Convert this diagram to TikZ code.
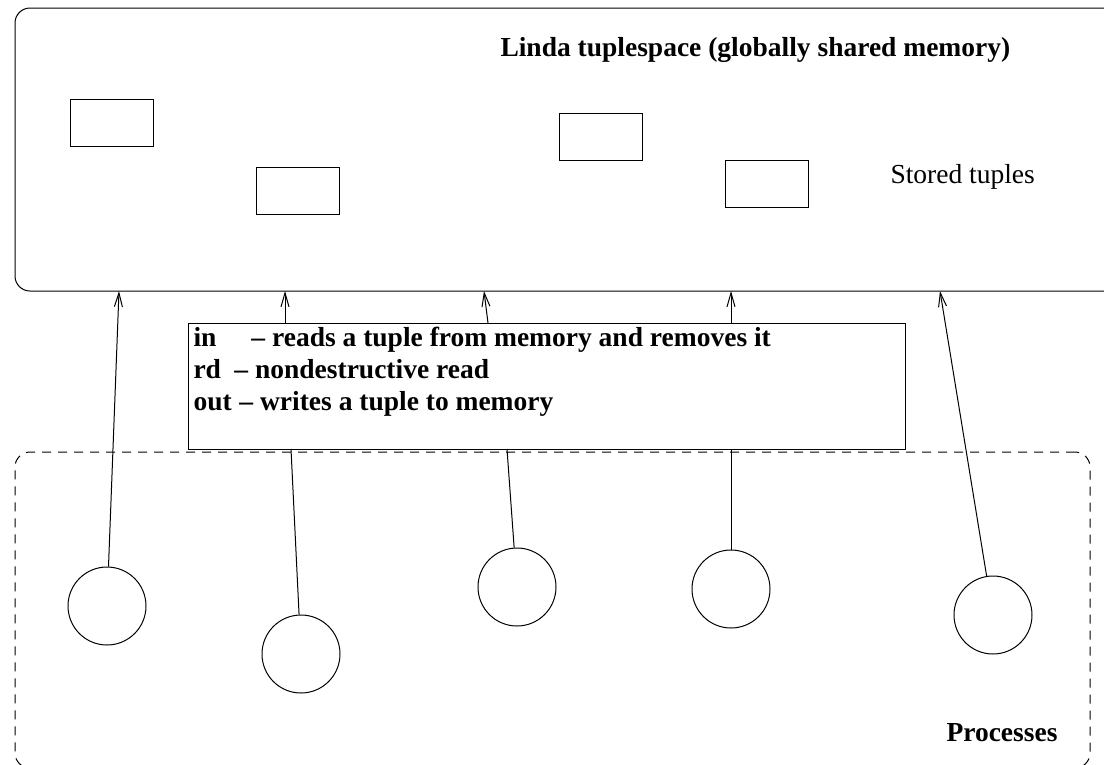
\documentclass[tikz,border=0pt]{standalone}
\usepackage{fontspec}
\setmainfont{Liberation Serif}
\usetikzlibrary{arrows.meta}
\tikzset{>={Straight Barb[length=14pt,width=8pt]}}
\tikzstyle{tuple}=[rectangle,draw,minimum width=83pt,minimum height=47pt,inner sep=0pt]
\tikzstyle{process}=[circle,draw,minimum size=78pt,inner sep=0pt]
\tikzstyle{txt}=[font=\fontsize{27.5}{33}\selectfont,inner sep=0pt,anchor=base west]
\tikzstyle{btxt}=[txt,font=\fontsize{27.5}{33}\selectfont\bfseries]

\begin{document}
\begin{tikzpicture}[x=1pt,y=-1pt,line width=1pt]
	\useasboundingbox (0,0) rectangle (1104,764);

	% tuplespace and process area
	\node[draw,rounded corners=15pt,minimum width=1115pt,minimum height=283pt] (space) at (572.5,149.5) {};
	\node[draw,dash pattern=on 9pt off 7pt,rounded corners=15pt,minimum width=1075pt,minimum height=316pt] (procs) at (552.5,610) {};

	\node[btxt] (title) at (500,56) {Linda tuplespace (globally shared memory)};
	\node[txt] (stored) at (890,183) {Stored tuples};
	\node[btxt] (plabel) at (946,741) {Processes};

	\foreach \n/\x/\y in {1/111.5/122.5, 2/298/191, 3/600.5/136.5, 4/766.5/184} {
		\node[tuple] (t\n) at (\x,\y) {};
	};
	\foreach \n/\x/\y in {1/107/606, 2/301/654, 3/517/587, 4/731/589, 5/993/615} {
		\node[process] (p\n) at (\x,\y) {};
	};

	% operations box
	\node[draw,minimum width=717pt,minimum height=126pt,inner sep=0pt] (ops) at (546.5,386) {};
	\node[btxt] (l1) at (193,346) {\makebox[58pt][l]{in}-- reads a tuple from memory and removes it};
	\node[btxt] (l2) at (193,378) {\makebox[41pt][l]{rd}-- nondestructive read};
	\node[btxt] (l3) at (193,410) {\makebox[46pt][l]{out}-- writes a tuple to memory};

	\foreach \i/\x in {1/119, 2/285, 3/484, 4/731, 5/940} {
		\coordinate (a\i) at (\x,291);
	};
	\foreach \i/\x in {2/285, 3/488, 4/731} {
		\coordinate (o\i) at (\x,323);
	};
	\foreach \i/\x in {2/291, 3/507, 4/731} {
		\coordinate (b\i) at (\x,449);
	};

	\draw[->] (p1) -- (a1);
	\draw[->] (p5) -- (a5);
	\foreach \i in {2,3,4} {
		\draw[->] (o\i) -- (a\i);
		\draw (b\i) -- (p\i);
	};
\end{tikzpicture}
\end{document}
